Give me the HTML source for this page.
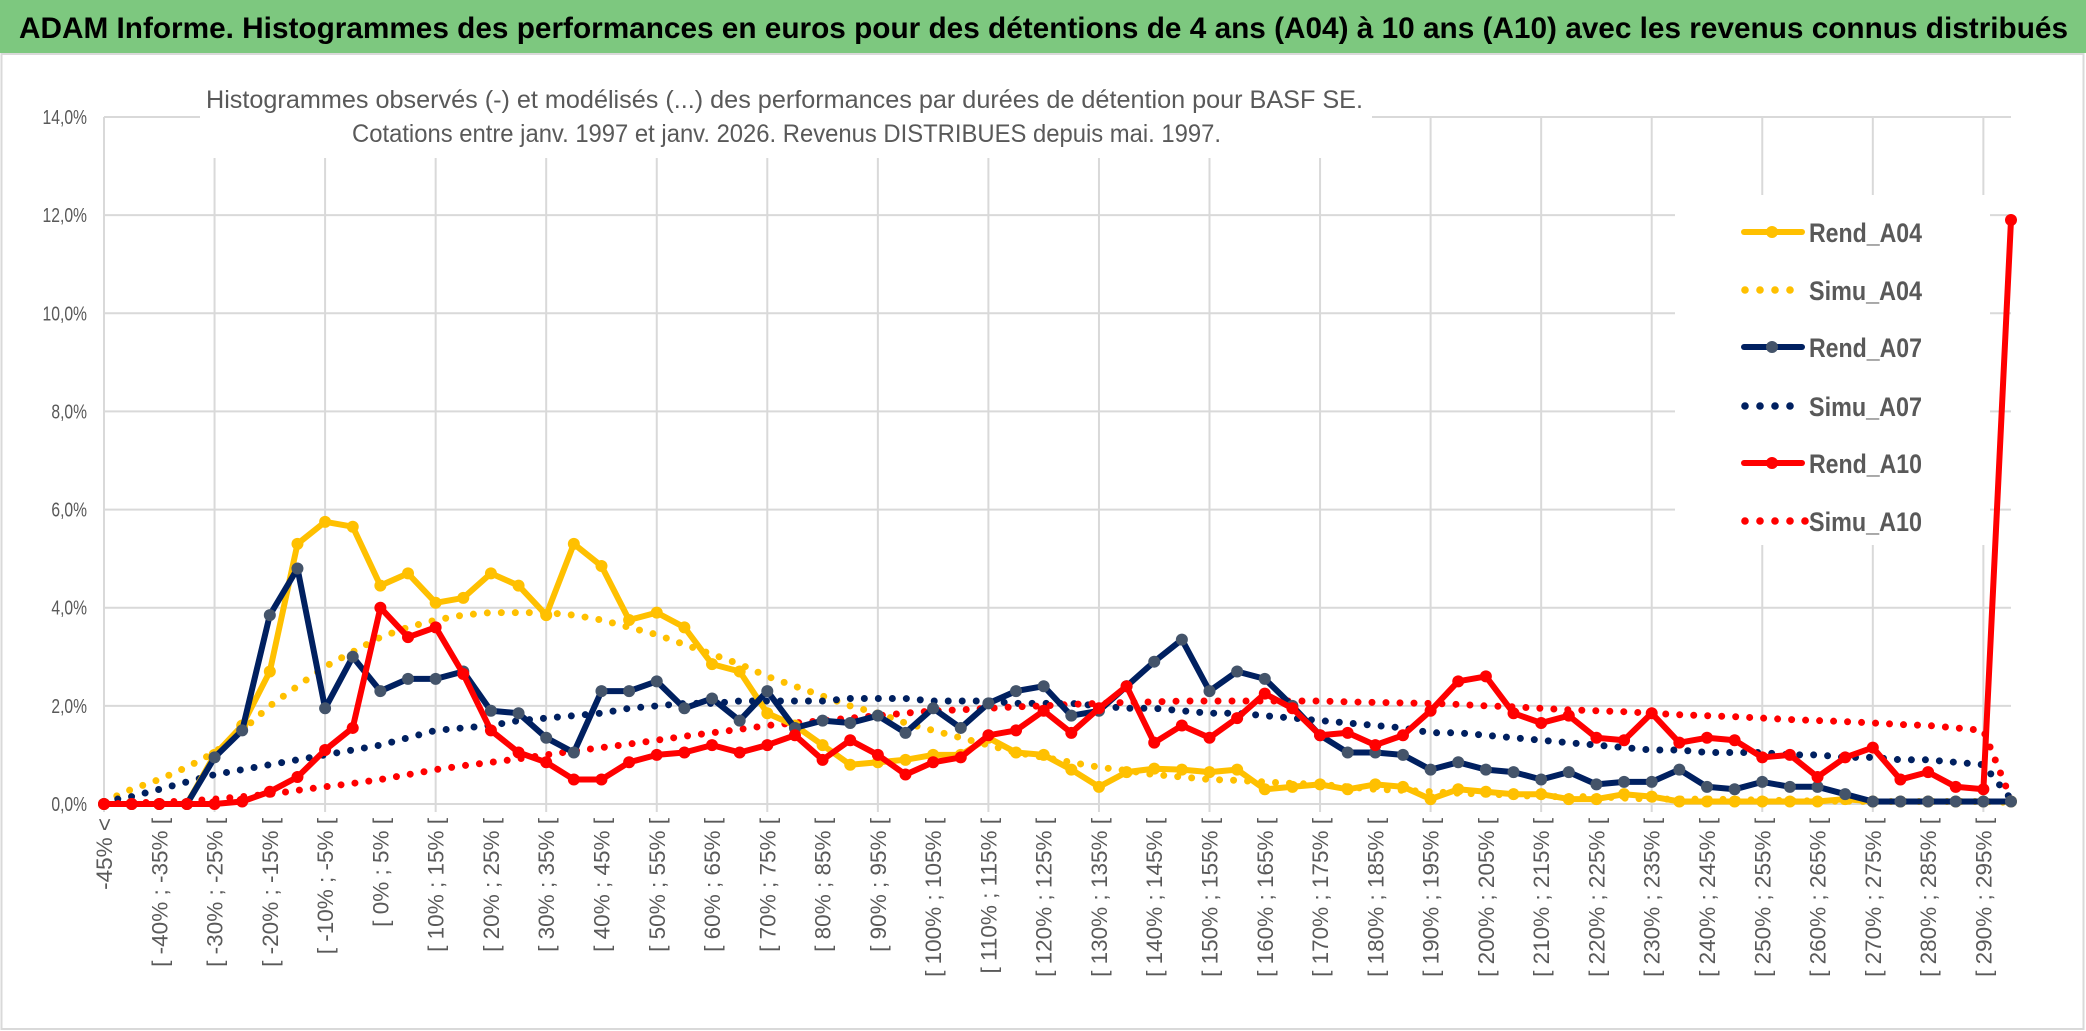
<!DOCTYPE html>
<html><head><meta charset="utf-8"><style>
html,body{margin:0;padding:0;background:#fff;width:2086px;height:1031px;overflow:hidden}
svg{display:block}
text{font-family:"Liberation Sans Narrow","Liberation Sans",sans-serif}
</style></head><body>
<svg id="chart" width="2086" height="1031" viewBox="0 0 2086 1031" xmlns="http://www.w3.org/2000/svg">
<rect x="0" y="0" width="2086" height="1031" fill="#fff"/>
<rect x="1.5" y="54" width="2082" height="975" fill="none" stroke="#d9d9d9" stroke-width="2"/>
<rect x="0" y="0" width="2086" height="53" fill="#7dc87f"/>
<text x="19" y="38" font-size="30" font-weight="bold" fill="#000" textLength="2049" lengthAdjust="spacingAndGlyphs">ADAM Informe. Histogrammes des performances en euros pour des détentions de 4 ans (A04) à 10 ans (A10) avec les revenus connus distribués</text>
<g id="grid"></g>
<g id="yaxis"></g>
<g id="xaxis"></g>
<rect x="200" y="60" width="1172" height="98" fill="#fff"/>
<text x="206" y="108" font-size="25" fill="#595959" textLength="1157" lengthAdjust="spacingAndGlyphs">Histogrammes observés (-) et modélisés (...) des performances par durées de détention pour BASF SE.</text>
<text x="352" y="142" font-size="25" fill="#595959" textLength="869" lengthAdjust="spacingAndGlyphs">Cotations entre janv. 1997 et janv. 2026. Revenus DISTRIBUES depuis mai. 1997.</text>
<rect x="1675" y="195" width="315" height="350" fill="#fff"/>
<g id="series"></g>
<g id="legend"></g>
</svg>
<script>
const rendA04 = [0,0,0,0,1.0,1.6,2.7,5.3,5.75,5.65, 4.45,4.7,4.1,4.2,4.7,4.45,3.85,5.3,4.85,3.75, 3.9,3.6,2.85,2.7,1.85,1.6,1.2,0.8,0.85,0.9, 1.0,1.0,1.35,1.05,1.0,0.7,0.35,0.65,0.72,0.7, 0.65,0.7,0.3,0.35,0.4,0.3,0.4,0.35,0.1,0.3, 0.25,0.2,0.2,0.1,0.1,0.2,0.15,0.05,0.05,0.05, 0.05,0.05,0.05,0.1,0.05,0.05,0.05,0.05,0.05,0.05];
const simuA04 = [0.05,0.3,0.5,0.75,1.05,1.5,2.0,2.4,2.8,3.1, 3.4,3.6,3.75,3.85,3.9,3.9,3.9,3.85,3.75,3.6, 3.45,3.25,3.05,2.85,2.6,2.4,2.2,2.0,1.85,1.65, 1.5,1.35,1.2,1.05,0.95,0.85,0.75,0.68,0.6,0.55, 0.5,0.48,0.45,0.42,0.4,0.35,0.3,0.28,0.25,0.22, 0.2,0.18,0.15,0.15,0.15,0.12,0.1,0.1,0.1,0.09, 0.08,0.07,0.06,0.06,0.05,0.05,0.05,0.05,0.05,0.03];
const rendA07 = [0,0,0,0,0.95,1.5,3.85,4.8,1.95,3.0, 2.3,2.55,2.55,2.7,1.9,1.85,1.35,1.05,2.3,2.3, 2.5,1.95,2.15,1.7,2.3,1.55,1.7,1.65,1.8,1.45, 1.95,1.55,2.05,2.3,2.4,1.8,1.9,2.4,2.9,3.35, 2.3,2.7,2.55,2.0,1.4,1.05,1.05,1.0,0.7,0.85, 0.7,0.65,0.5,0.65,0.4,0.45,0.45,0.7,0.35,0.3, 0.45,0.35,0.35,0.2,0.05,0.05,0.05,0.05,0.05,0.05];
const simuA07 = [0.05,0.15,0.3,0.45,0.6,0.7,0.8,0.9,1.0,1.1, 1.2,1.35,1.5,1.55,1.6,1.7,1.75,1.8,1.85,1.95, 2.0,2.05,2.05,2.1,2.1,2.1,2.1,2.15,2.15,2.15, 2.1,2.1,2.1,2.05,2.05,2.05,2.0,1.95,1.95,1.9, 1.85,1.85,1.8,1.75,1.7,1.65,1.6,1.55,1.45,1.45, 1.4,1.35,1.3,1.25,1.2,1.15,1.1,1.1,1.05,1.05, 1.05,1.0,1.0,0.95,0.95,0.9,0.9,0.85,0.8,0.1];
const rendA10 = [0,0,0,0,0,0.05,0.25,0.55,1.1,1.55, 4.0,3.4,3.6,2.65,1.5,1.05,0.85,0.5,0.5,0.85, 1.0,1.05,1.2,1.05,1.2,1.4,0.9,1.3,1.0,0.6, 0.85,0.95,1.4,1.5,1.9,1.45,1.95,2.4,1.25,1.6, 1.35,1.75,2.25,1.95,1.4,1.45,1.2,1.4,1.9,2.5, 2.6,1.85,1.65,1.8,1.35,1.3,1.85,1.25,1.35,1.3, 0.95,1.0,0.55,0.95,1.15,0.5,0.65,0.35,0.3,11.9];
const simuA10 = [0.0,0.02,0.04,0.06,0.1,0.15,0.2,0.28,0.35,0.42, 0.5,0.6,0.7,0.78,0.85,0.92,1.0,1.08,1.15,1.22, 1.3,1.38,1.45,1.52,1.6,1.65,1.7,1.75,1.8,1.85, 1.9,1.92,1.95,1.98,2.0,2.03,2.05,2.07,2.08,2.1, 2.1,2.1,2.1,2.1,2.1,2.08,2.07,2.06,2.05,2.03, 2.0,1.98,1.95,1.92,1.9,1.88,1.85,1.82,1.8,1.78, 1.75,1.72,1.7,1.68,1.65,1.62,1.6,1.55,1.5,0.1];
const yTicks = [0,2,4,6,8,10,12,14];
const yTickLabels = ["0,0%","2,0%","4,0%","6,0%","8,0%","10,0%","12,0%","14,0%"];
const legendNames = ["Rend_A04","Simu_A04","Rend_A07","Simu_A07","Rend_A10","Simu_A10"];

const categories = ["-45% <"];
for (let a = -45; a < 300; a += 5) categories.push("[ " + a + "% ; " + (a + 5) + "% [");

const NS = "http://www.w3.org/2000/svg";
const X0 = 104, X1 = 2011, Y0 = 804, Y14 = 117;
const n = categories.length;
function xs(i){ return X0 + (X1 - X0) * i / (n - 1); }
function ys(v){ return Y0 - (Y0 - Y14) * v / 14; }
function mk(tag, attrs, parent){ const e = document.createElementNS(NS, tag); for (const k in attrs) e.setAttribute(k, attrs[k]); parent.appendChild(e); return e; }

const grid = document.getElementById('grid');
yTicks.forEach((t, k) => {
  const l = mk('line', {x1:X0, x2:X1, y1:ys(t), y2:ys(t), stroke:'#d9d9d9', 'stroke-width':2}, grid);
  
  
});
for (let i = 0; i < n; i += 4) {
  const l = mk('line', {x1:xs(i), x2:xs(i), y1:Y14, y2:Y0 + 8, stroke:'#d9d9d9', 'stroke-width':2}, grid);
  
  
}
const yaxis = document.getElementById('yaxis');
yTicks.forEach((t, k) => {
  const lab = yTickLabels[k];
  const tx = mk('text', {x:87, y:ys(t) + 7, 'font-size':20, fill:'#595959', 'text-anchor':'end', textLength: lab.length * 8.9, lengthAdjust:'spacingAndGlyphs'}, yaxis);
  tx.textContent = lab;
  
  
});
const xaxis = document.getElementById('xaxis');
for (let i = 0; i < n; i += 2) {
  const x = xs(i) + 8, y = 818;
  const tx = mk('text', {x:x, y:y, 'font-size':22.5, fill:'#595959', 'text-anchor':'end', transform:'rotate(-90 ' + x + ' ' + y + ')', style:'font-family:"Liberation Sans",sans-serif'}, xaxis);
  tx.textContent = categories[i];
  
  
}

const series = document.getElementById('series');
function pts(arr){ return arr.map((v, i) => xs(i).toFixed(1) + ',' + ys(v).toFixed(1)).join(' '); }
function dotted(arr, color, name){
  const p = mk('polyline', {points:pts(arr), fill:'none', stroke:color, 'stroke-width':7, 'stroke-linecap':'round', 'stroke-dasharray':'0 14'}, series);
  
  
}
function solid(arr, color, mcolor, name){
  const g = mk('g', {}, series);
  
  
  const p = mk('polyline', {points:pts(arr), fill:'none', stroke:color, 'stroke-width':6, 'stroke-linejoin':'round'}, g);
  
  
  arr.forEach((v, i) => {
    const c = mk('circle', {cx:xs(i), cy:ys(v), r:6, fill:mcolor}, g);
    
    
  });
}
dotted(simuA04, '#FFC000', 'simu-a04-line');
dotted(simuA07, '#002060', 'simu-a07-line');
dotted(simuA10, '#FF0000', 'simu-a10-line');
solid(rendA04, '#FFC000', '#FFC000', 'rend-a04');
solid(rendA07, '#002060', '#44546A', 'rend-a07');
solid(rendA10, '#FF0000', '#FF0000', 'rend-a10');

const legend = document.getElementById('legend');
const legColors = ['#FFC000','#FFC000','#002060','#002060','#FF0000','#FF0000'];
const legMarker = ['#FFC000',null,'#44546A',null,'#FF0000',null];
const legY = [232,290,347,406,463,521];
legendNames.forEach((nm, k) => {
  const g = mk('g', {}, legend);
  
  
  const y = legY[k];
  if (legMarker[k]) {
    mk('line', {x1:1744, x2:1802, y1:y, y2:y, stroke:legColors[k], 'stroke-width':6, 'stroke-linecap':'round'}, g);
    mk('circle', {cx:1772, cy:y, r:6, fill:legMarker[k]}, g);
  } else {
    const cnt = k === 5 ? 5 : 4;
    for (let d = 0; d < cnt; d++) mk('circle', {cx:1745 + d * 15, cy:y, r:3.8, fill:legColors[k]}, g);
  }
  const t = mk('text', {x:1809, y:y + 10, 'font-size':27, 'font-weight':'bold', fill:'#595959', textLength:113, lengthAdjust:'spacingAndGlyphs'}, g);
  t.textContent = nm;
});
</script>
</body></html>
